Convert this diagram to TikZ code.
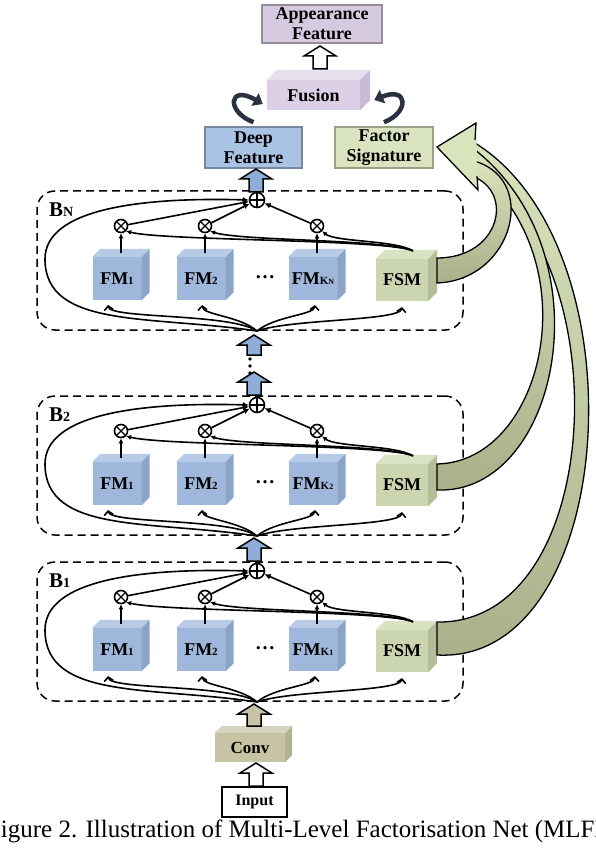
\documentclass[tikz,border=0pt]{standalone}
\usepackage{fontspec}
\setmainfont{Liberation Serif}
\usetikzlibrary{arrows.meta}
\definecolor{fmfront}{HTML}{9FB7DA}
\definecolor{fmtop}{HTML}{B8CBE6}
\definecolor{fmside}{HTML}{8CA4C8}
\definecolor{fsmfront}{HTML}{CBD5B0}
\definecolor{fsmtop}{HTML}{DAE2C4}
\definecolor{fsmside}{HTML}{B3BD98}
\definecolor{deepc}{HTML}{A9C3E5}
\definecolor{factc}{HTML}{D9E3BF}
\definecolor{appc}{HTML}{D5CADF}
\definecolor{fusfront}{HTML}{DCCFE6}
\definecolor{fustop}{HTML}{E8E0EE}
\definecolor{fusside}{HTML}{C9BAD5}
\definecolor{convfront}{HTML}{C7C4A5}
\definecolor{convtop}{HTML}{D6D4BC}
\definecolor{convside}{HTML}{B5B292}
\definecolor{bluearrow}{HTML}{8EADD8}
\definecolor{bandlight}{HTML}{D9E4BD}
\definecolor{banddark}{HTML}{A8B08A}
\definecolor{curlc}{HTML}{2A3140}
\newcommand{\lowsub}[1]{{\fontsize{11}{11}\selectfont #1}}
\newcommand{\tinysub}[1]{{\fontsize{8}{8}\selectfont #1}}
\newcommand{\bsub}[1]{{\fontsize{14}{14}\selectfont #1}}
\newcommand{\cubefaces}[4]{%
  \fill[#3] (#1.north west) -- ++(#2,-#2) -- ([shift={(#2,-#2)}]#1.north east) -- (#1.north east) -- cycle;
  \fill[#4] (#1.north east) -- ++(#2,-#2) -- ([shift={(#2,-#2)}]#1.south east) -- (#1.south east) -- cycle;
}
\newcommand{\uparr}[4]{%
  \filldraw[line width=1.5pt, fill=#4] (#1-7,#2) -- (#1-7,#3+10) -- (#1-16,#3+10) -- (#1,#3) -- (#1+16,#3+10) -- (#1+7,#3+10) -- (#1+7,#2) -- cycle;
}
\newcommand{\mlfblock}[4]{%
\begin{scope}[yshift=-#2pt]
  \node[blockframe] (#1frame) at (250,69.5) {};
  \node[blabel] (#1lab) at (49,25) {B\bsub{#3}};
  \node[fmcube] (#1fmA) at (117,87.5) {FM\lowsub{1}};
  \node[fmcube] (#1fmB) at (201,87.5) {FM\lowsub{2}};
  \node[dotsnode] (#1dots) at (265,86) {…};
  \node[fmcube] (#1fmK) at (313,87.5) {FM\lowsub{#4}};
  \node[fsmcube] (#1fsm) at (402,89) {FSM};
  \cubefaces{#1fmA}{8}{fmtop}{fmside}
  \cubefaces{#1fmB}{8}{fmtop}{fmside}
  \cubefaces{#1fmK}{8}{fmtop}{fmside}
  \cubefaces{#1fsm}{9}{fsmtop}{fsmside}
  \node[mulnode] (#1mA) at (121,35) {};
  \node[mulnode] (#1mB) at (205,35) {};
  \node[mulnode] (#1mK) at (317,35) {};
  \node[addnode] (#1add) at (257,9) {};
  \coordinate (#1in) at (257,140);
  % FM -> mul
  \draw[conn,-{Latex[length=5pt,width=5pt]}] ([shift={(4,-4)}]#1fmA.north) -- (#1mA);
  \draw[conn,-{Latex[length=5pt,width=5pt]}] ([shift={(4,-4)}]#1fmB.north) -- (#1mB);
  \draw[conn,-{Latex[length=5pt,width=5pt]}] ([shift={(4,-4)}]#1fmK.north) -- (#1mK);
  % mul -> add
  \draw[conn,-{Latex[length=6pt,width=6pt]}] (#1mA) -- (#1add);
  \draw[conn,-{Latex[length=6pt,width=6pt]}] (#1mB) -- (#1add);
  \draw[conn,-{Latex[length=6pt,width=6pt]}] (#1mK) -- (#1add);
  % FSM -> mul
  \draw[conn,-{Latex[length=5pt,width=5pt]}] ([shift={(11,-8)}]#1fsm.north) .. controls (385,48) and (165,50) .. (#1mA.south east);
  \draw[conn,-{Latex[length=5pt,width=5pt]}] ([shift={(11,-8)}]#1fsm.north) .. controls (385,48) and (240,50) .. (#1mB.south east);
  \draw[conn,-{Latex[length=5pt,width=5pt]}] ([shift={(11,-8)}]#1fsm.north) .. controls (395,49) and (335,51) .. (#1mK.south east);
  % fan from input
  \draw[conn,-{Straight Barb[length=4pt,width=9pt]}] (#1in) .. controls (230,122) and (110,128) .. (108,114);
  \draw[conn,-{Straight Barb[length=4pt,width=9pt]}] (#1in) .. controls (240,125) and (203,124) .. (202,114);
  \draw[conn,-{Straight Barb[length=4pt,width=9pt]}] (#1in) .. controls (275,125) and (314,124) .. (315,114);
  \draw[conn,-{Straight Barb[length=4pt,width=9pt]}] (#1in) .. controls (290,128) and (400,130) .. (402,116);
  % skip loop
  \draw[conn,-{Latex[length=6pt,width=6pt]}] (#1in) .. controls (150,124) and (45,138) .. (45,68) .. controls (45,18) and (140,6) .. (#1add.west);
\end{scope}}
\begin{document}
\begin{tikzpicture}[x=1pt,y=-1pt,
  conn/.style={line width=1.6pt, black},
  blockframe/.style={draw, dashed, dash pattern=on 8pt off 5pt, line width=1.5pt, rounded corners=18pt, minimum width=426pt, minimum height=139pt, inner sep=0pt},
  blabel/.style={anchor=base west, font=\bfseries\fontsize{21}{21}\selectfont, inner sep=0pt},
  fmcube/.style={fill=fmfront, minimum width=49pt, minimum height=43pt, inner sep=0pt, text depth=-3pt, font=\bfseries\fontsize{18}{18}\selectfont},
  fsmcube/.style={fill=fsmfront, minimum width=52pt, minimum height=42pt, inner sep=0pt, text depth=-3pt, font=\bfseries\fontsize{18}{18}\selectfont},
  dotsnode/.style={inner sep=0pt, font=\bfseries\fontsize{20}{20}\selectfont},
  mulnode/.style={circle, draw, line width=1.6pt, fill=white, minimum size=13pt, inner sep=0pt,
    path picture={\draw[line width=1.3pt] (path picture bounding box.north west) -- (path picture bounding box.south east) (path picture bounding box.north east) -- (path picture bounding box.south west);}},
  addnode/.style={circle, draw, line width=1.6pt, fill=white, minimum size=15pt, inner sep=0pt,
    path picture={\draw[line width=1.3pt] (path picture bounding box.north) -- (path picture bounding box.south) (path picture bounding box.east) -- (path picture bounding box.west);}},
  flatbox/.style={line width=1.5pt, inner sep=0pt, align=center, font=\bfseries\fontsize{18}{20}\selectfont},
  curl/.style={line width=4.5pt, curlc, -{Triangle[length=9pt,width=14pt]}},
  band/.style={line width=1.3pt, draw=black, top color=bandlight, bottom color=banddark}
]
\useasboundingbox (0,0) rectangle (596,850);

% top part
\node[flatbox, fill=appc, draw=appc!70!black, minimum width=120pt, minimum height=38pt] (app) at (322,24) {Appearance\\Feature};
\node[fill=fusfront, minimum width=93pt, minimum height=30pt, inner sep=0pt, font=\bfseries\fontsize{18}{18}\selectfont] (fusion) at (313.5,95) {Fusion};
\cubefaces{fusion}{10}{fustop}{fusside}
\node[flatbox, fill=deepc, draw=deepc!70!black, minimum width=97pt, minimum height=41pt] (deep) at (253.5,147.5) {Deep\\Feature};
\node[flatbox, fill=factc, draw=factc!70!black, minimum width=98pt, minimum height=41pt] (fact) at (384,147.5) {Factor\\Signature};
\uparr{320}{69}{46}{white}
\draw[curl] ([yshift=4pt]deep.north) .. controls (226,112) and (228,84) .. ([shift={(-4,9)}]fusion.west);
\draw[curl] ([yshift=4pt]fact.north) .. controls (410,112) and (408,86) .. ([shift={(14,5)}]fusion.east);

% blocks
\mlfblock{bn}{191}{N}{K\tinysub{N}}
\mlfblock{bb}{396}{2}{K\tinysub{2}}
\mlfblock{ba}{562}{1}{K\tinysub{1}}

% arrows between blocks
\uparr{256}{192}{169}{bluearrow}
\uparr{254}{355}{335}{bluearrow}
\fill (250,359) circle (1.8pt) (250,366) circle (1.8pt) (250,373) circle (1.8pt);
\uparr{254}{395}{372}{bluearrow}
\uparr{254}{561}{538}{bluearrow}

% bottom
\node[fill=convfront, minimum width=70pt, minimum height=29pt, inner sep=0pt, font=\bfseries\fontsize{17}{17}\selectfont] (conv) at (250,747.5) {Conv};
\cubefaces{conv}{7}{convtop}{convside}
\uparr{254}{726}{704}{convfront}
\node[draw, line width=1.5pt, fill=white, minimum width=65pt, minimum height=30pt, inner sep=0pt, font=\bfseries\fontsize{16}{16}\selectfont] (input) at (254.5,802) {Input};
\uparr{256}{786}{763}{white}

% factor signature bands
\path[band] (437,655) .. controls (620,665) and (645,240) .. (470,140) -- (472,168) .. controls (622,260) and (605,625) .. (437,622) -- cycle;
\path[band] (437,490) .. controls (560,495) and (610,250) .. (470,146) -- (472,166) .. controls (592,258) and (545,462) .. (437,464) -- cycle;
\path[band] (437,283) .. controls (515,280) and (540,175) .. (470,160) -- (472,176) .. controls (515,192) and (500,258) .. (437,258) -- cycle;
\fill[bandlight] (437,147) -- (476,123) -- (478,190) -- cycle;
\draw[line width=1.3pt, line join=miter] (475,140) -- (476,123) -- (437,147) -- (478,190) -- (477,176);

% caption
\node[font=\fontsize{25}{25}\selectfont, anchor=base, inner sep=0pt] (caption) at (304,837) {Figure 2. Illustration of Multi-Level Factorisation Net (MLFN)};
\end{tikzpicture}
\end{document}
